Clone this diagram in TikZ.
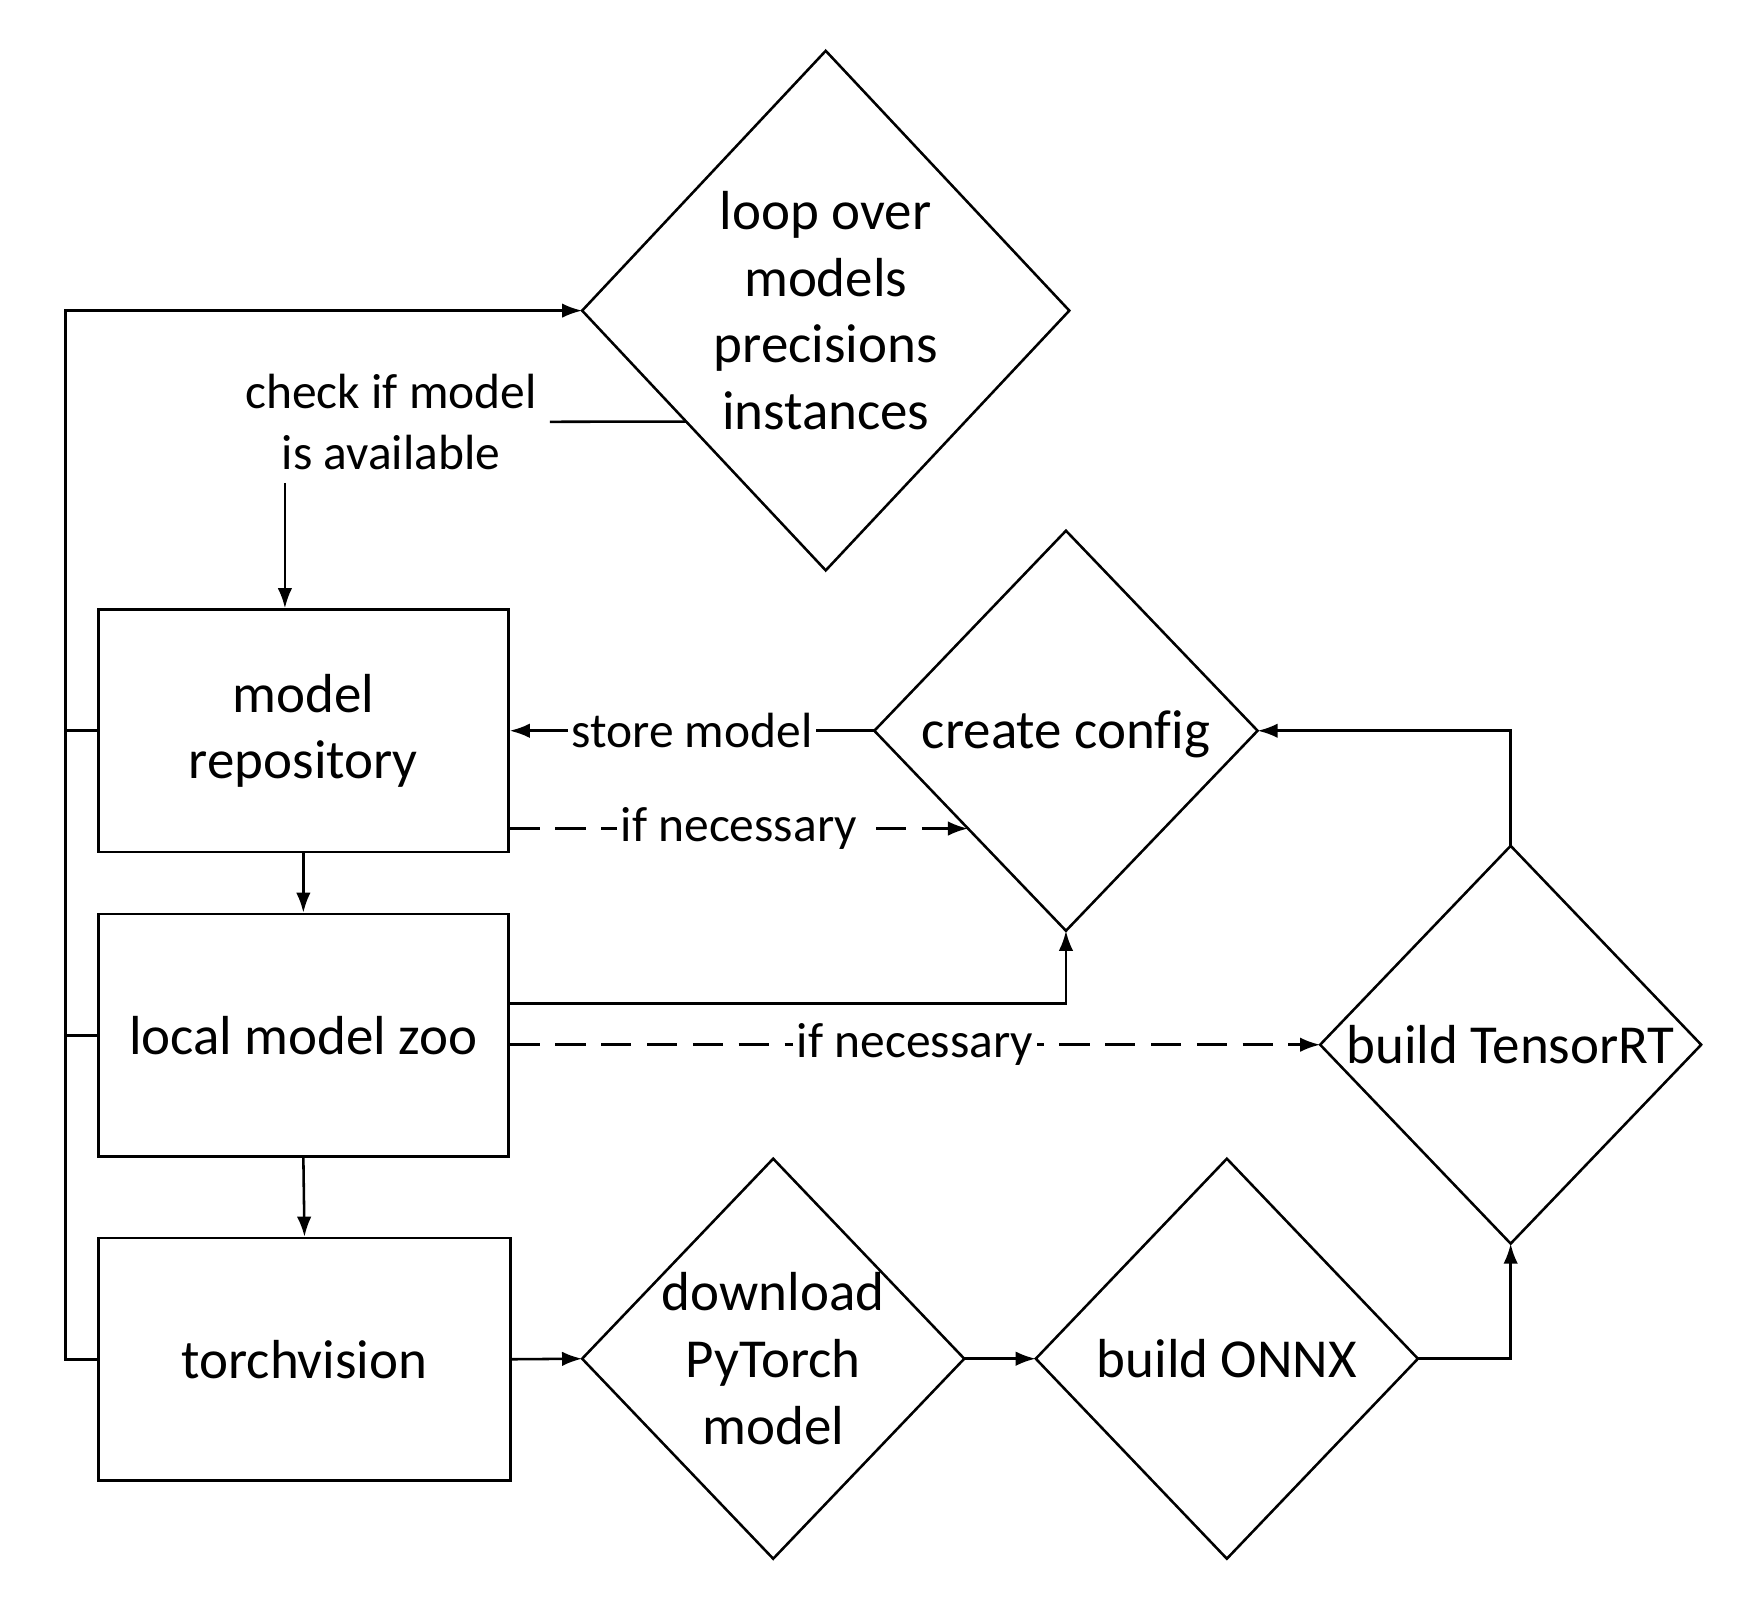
\documentclass[tikz,border=0pt]{standalone}
\usepackage{fontspec}
\setmainfont{Carlito}[Ligatures=CommonOff]
\usetikzlibrary{shapes.geometric,arrows.meta,calc}

\begin{document}
\begin{tikzpicture}[>={Latex[length=1.8mm,width=1.3mm]}, line width=0.65pt,
    box/.style={rectangle, draw, minimum width=3.67cm, minimum height=2.17cm, align=center, font=\fontsize{14pt}{17pt}\selectfont},
    dia/.style={diamond, draw, inner sep=0pt, outer sep=0pt},
    txt/.style={align=center, font=\fontsize{14pt}{17pt}\selectfont},
    lbl/.style={fill=white, inner sep=1pt, align=center, font=\fontsize{12.6pt}{15.6pt}\selectfont},
    dsh/.style={dash pattern=on 2.7mm off 1.4mm}]
            \useasboundingbox (0,0) rectangle (15.68,-14.41);

            \node[dia, minimum width=4.36cm, minimum height=4.65cm] (loop) at (7.39,-2.78) {};
            \node[txt] (loopt) at (loop) {loop over\\models\\precisions\\instances};
            \node[dia, minimum width=3.43cm, minimum height=3.58cm] (cfg) at (9.54,-6.54) {};
            \node[txt] (cfgt) at ([yshift=-0.03cm]cfg.center) {create config};
            \node[dia, minimum width=3.41cm, minimum height=3.56cm] (trt) at (13.52,-9.35) {};
            \node[txt] (trtt) at (trt) {build TensorRT};
            \node[dia, minimum width=3.42cm, minimum height=3.58cm] (dl) at (6.92,-12.16) {};
            \node[txt] (dlt) at (dl) {download\\PyTorch\\model};
            \node[dia, minimum width=3.42cm, minimum height=3.58cm] (onnx) at (10.98,-12.16) {};
            \node[txt] (onnxt) at (onnx) {build ONNX};

            \node[box] (repo) at (2.715,-6.54) {model\\repository};
            \node[box] (zoo) at (2.715,-9.265) {local model zoo};
            \node[box, minimum width=3.69cm] (torch) at (2.725,-12.165) {torchvision};

            % loop back
            \draw[->] (torch.west) -- ++(-0.28,0) coordinate (back) |- (loop.west);
            \draw (repo.west) -- (repo.west -| back);
            \draw (zoo.west) -- (zoo.west -| back);

            \node[lbl, inner sep=3pt] (chk) at (3.50,-3.775) {check if model\\is available};
            \draw ($(loop.west)!0.427!(loop.south)$) -- (chk.east);
            \draw[->] (chk.south -| 2.55,0) -- (repo.north -| 2.55,0);

            \draw[->] (repo.south) -- (zoo.north);
            \draw[->] (zoo.south) -- (torch.north);
            \draw[->] (cfg.west) -- node[lbl] {store model} (cfg.west -| repo.east);
            \coordinate (cfgin) at ($(cfg.west)!0.489!(cfg.south)$);
            \draw[->, dsh] (repo.east |- cfgin) -- node[lbl] {if necessary} (cfgin);
            \draw[->] ($(zoo.north east)!0.37!(zoo.south east)$) -| (cfg.south);
            \draw[->, dsh] (zoo.east |- trt.west) -- node[lbl] {if necessary} (trt.west);
            \draw[->] (trt.north) |- (cfg.east);

            \draw[->] (torch.east) -- (dl.west);
            \draw[->] (dl.east) -- (onnx.west);
            \draw[->] (onnx.east) -| (trt.south);
        \end{tikzpicture}
\end{document}
